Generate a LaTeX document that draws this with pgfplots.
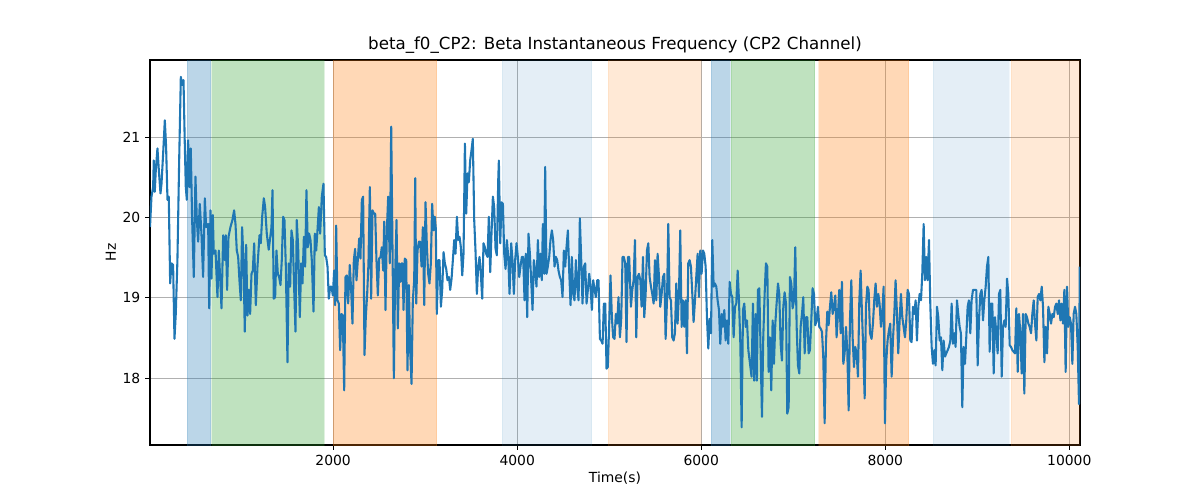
\documentclass[border=0pt]{standalone}
\usepackage{fontspec}
\setmainfont{DejaVu Sans}
\usepackage{pgfplots}
\pgfplotsset{compat=1.18}
\usepackage{pgfplotstable}
\definecolor{tabblue}{RGB}{31,119,180}
\definecolor{taborange}{RGB}{255,127,14}
\definecolor{tabgreen}{RGB}{44,160,44}
\definecolor{gridgray}{RGB}{176,176,176}

\pgfplotstableread{
x y
10 19.88
26 20.26
44 20.38
51 20.71
62 20.32
73 20.59
91 20.86
106 20.59
124 20.30
135 20.42
153 20.80
171 21.21
185 20.88
200 20.22
214 20.26
229 19.18
243 19.43
261 19.41
276 18.49
290 18.80
308 19.47
327 20.71
345 21.75
359 21.65
374 21.71
388 20.92
399 20.38
410 20.22
424 20.96
439 20.38
453 20.86
468 19.97
486 19.26
504 20.51
519 19.97
533 19.70
551 20.17
569 19.80
587 19.26
606 20.24
620 19.88
642 19.92
653 18.87
667 20.09
678 19.24
693 20.03
703 19.55
722 19.59
743 19.01
758 19.59
772 19.26
787 18.87
805 19.78
823 19.47
834 19.78
848 19.10
863 19.76
884 19.88
906 19.97
924 20.09
939 19.92
953 19.59
968 19.51
982 19.22
997 18.97
1011 19.88
1026 19.47
1040 18.58
1055 19.66
1069 18.78
1084 19.10
1098 18.80
1113 19.30
1127 19.34
1142 19.68
1160 18.91
1178 19.39
1200 19.78
1214 19.68
1229 20.01
1247 20.24
1261 20.13
1279 19.80
1300 19.60
1330 19.88
1341 20.34
1355 18.99
1370 19.01
1384 19.59
1399 19.30
1413 19.26
1428 19.16
1442 19.47
1457 20.01
1471 19.97
1486 19.39
1504 18.20
1518 19.43
1533 19.14
1547 19.84
1562 19.72
1576 19.14
1591 18.58
1605 19.97
1620 19.63
1638 18.76
1653 19.43
1667 19.18
1682 19.76
1696 19.39
1710 20.34
1725 19.63
1739 19.80
1754 19.72
1768 19.47
1787 18.83
1801 19.80
1816 19.59
1830 19.84
1845 20.13
1859 19.80
1877 20.26
1895 20.42
1910 19.53
1924 19.51
1939 19.39
1953 18.99
1968 19.14
1982 19.14
1997 19.03
2011 19.34
2022 18.91
2033 19.90
2047 18.97
2062 18.93
2076 18.35
2091 18.80
2105 18.78
2120 17.85
2134 19.26
2149 19.28
2163 18.93
2181 19.41
2196 19.10
2210 18.68
2225 19.47
2239 19.61
2254 19.22
2268 19.47
2283 19.74
2297 19.49
2312 20.22
2326 20.26
2341 18.29
2355 18.76
2370 19.05
2384 19.43
2399 20.38
2413 18.99
2428 20.09
2442 20.05
2457 20.05
2471 19.47
2486 19.03
2500 19.49
2515 19.51
2529 19.63
2544 19.34
2555 19.95
2569 18.85
2584 19.84
2598 20.26
2616 19.43
2631 21.13
2645 19.63
2660 18.00
2674 19.30
2689 19.97
2703 18.62
2718 19.43
2732 19.20
2743 19.43
2754 19.43
2765 18.85
2779 19.49
2794 19.47
2808 18.10
2823 19.16
2837 18.35
2852 17.93
2866 18.97
2881 19.22
2892 20.49
2903 18.93
2917 19.59
2932 19.70
2946 19.70
2961 19.39
2975 19.88
2990 18.91
3004 20.19
3019 19.63
3033 19.30
3047 19.18
3062 19.43
3076 20.17
3091 19.84
3105 20.01
3116 19.86
3127 18.80
3142 19.47
3156 19.47
3171 18.89
3185 19.10
3200 19.57
3214 19.43
3229 19.36
3243 19.22
3258 19.26
3272 19.10
3287 19.24
3301 19.47
3316 19.72
3330 19.55
3345 20.01
3359 19.72
3374 19.76
3388 19.63
3403 19.28
3417 19.55
3432 20.92
3446 20.05
3461 20.55
3475 20.44
3489 20.71
3504 20.84
3518 20.98
3533 19.97
3547 19.59
3562 19.05
3576 19.39
3591 19.51
3605 19.30
3620 18.99
3634 19.68
3649 19.63
3663 19.55
3678 19.51
3692 20.01
3707 19.32
3721 19.80
3736 20.26
3750 20.13
3765 19.61
3779 19.53
3794 20.46
3801 20.71
3816 19.68
3830 20.19
3845 20.17
3859 19.55
3874 19.36
3888 19.72
3903 19.51
3917 19.05
3935 19.68
3949 19.47
3964 19.05
3978 19.47
3993 19.68
4007 19.51
4022 19.26
4036 19.39
4051 19.51
4065 19.51
4080 18.97
4094 19.55
4109 18.76
4123 19.80
4138 19.55
4152 19.22
4167 18.85
4181 19.47
4196 19.34
4210 19.14
4225 19.72
4239 19.26
4254 19.55
4268 19.22
4279 19.92
4293 19.30
4304 20.63
4319 19.30
4333 19.39
4348 19.51
4362 19.72
4377 19.84
4391 19.72
4406 19.39
4420 19.51
4435 19.47
4449 19.34
4464 19.26
4478 19.22
4493 19.01
4507 19.59
4522 19.39
4536 19.63
4551 19.84
4565 19.34
4580 18.91
4594 19.51
4609 19.05
4623 18.97
4638 19.47
4652 19.14
4667 18.97
4681 19.99
4696 19.47
4710 18.93
4725 19.39
4739 19.43
4754 18.93
4768 19.10
4783 19.30
4797 19.14
4812 18.85
4826 19.22
4841 19.10
4855 19.01
4870 19.22
4884 19.22
4899 18.49
4913 18.47
4928 18.43
4942 18.93
4957 18.93
4971 18.12
4985 18.14
5000 18.68
5014 19.28
5029 18.76
5043 18.51
5058 18.49
5072 18.80
5087 18.68
5101 19.01
5116 18.51
5130 18.72
5145 19.51
5159 19.51
5174 19.43
5188 18.45
5203 19.51
5217 19.51
5236 18.89
5251 19.10
5265 19.22
5280 19.72
5294 18.51
5309 19.26
5323 19.30
5338 19.22
5352 18.89
5367 19.51
5381 18.76
5396 19.05
5410 19.59
5425 19.68
5439 19.26
5454 19.14
5468 19.05
5483 18.93
5497 19.47
5512 18.97
5526 19.55
5541 19.26
5555 18.89
5570 19.05
5584 19.26
5599 19.30
5613 18.49
5628 18.97
5642 19.92
5656 19.01
5671 18.97
5685 18.51
5700 18.47
5714 18.56
5729 19.18
5743 18.68
5758 19.05
5772 19.84
5787 18.64
5801 18.97
5816 18.64
5830 18.97
5845 18.31
5859 19.43
5874 19.47
5888 19.39
5903 19.05
5917 18.70
5932 18.97
5946 19.26
5961 19.55
5975 19.01
5990 19.59
6004 19.30
6019 19.59
6033 19.55
6048 19.39
6062 18.76
6077 18.37
6091 18.74
6106 18.56
6120 19.72
6135 19.14
6149 19.18
6164 19.14
6178 18.97
6193 18.85
6207 18.43
6222 18.80
6236 18.64
6251 18.85
6265 18.47
6280 18.72
6294 18.43
6309 19.20
6323 19.05
6338 19.01
6352 18.51
6367 18.89
6381 18.93
6396 19.34
6410 18.97
6425 18.43
6439 17.39
6454 18.85
6468 18.93
6483 18.64
6497 18.72
6512 18.35
6526 18.22
6547 18.02
6562 18.93
6576 17.97
6591 18.80
6605 17.97
6616 19.10
6631 19.12
6645 18.35
6660 17.52
6674 18.51
6689 19.05
6703 19.43
6718 19.39
6732 18.08
6747 18.51
6761 17.85
6776 18.72
6790 18.18
6805 18.68
6819 18.93
6834 19.18
6848 19.05
6863 18.43
6877 18.22
6892 18.89
6906 19.07
6921 18.93
6935 17.56
6950 17.64
6964 19.26
6979 19.18
6993 18.87
7008 18.97
7022 19.63
7037 18.64
7051 18.16
7066 18.06
7080 18.64
7095 18.80
7109 19.01
7124 18.31
7138 18.76
7153 18.76
7167 18.31
7181 18.35
7196 18.72
7210 19.12
7225 19.05
7239 18.66
7254 18.72
7268 18.89
7283 18.64
7297 18.62
7312 18.58
7326 18.27
7341 17.44
7355 18.43
7370 18.83
7384 18.66
7399 18.89
7413 19.07
7428 18.80
7442 18.89
7457 19.03
7471 18.51
7486 18.80
7500 19.10
7515 18.56
7529 19.20
7544 18.18
7558 18.31
7573 18.64
7587 18.35
7602 17.60
7616 18.72
7631 19.22
7645 18.51
7660 18.14
7674 18.39
7689 18.31
7703 18.02
7718 18.97
7732 19.34
7747 18.80
7761 18.35
7776 17.75
7790 18.89
7805 19.14
7819 19.10
7834 18.56
7851 18.49
7866 18.68
7880 18.97
7895 19.18
7909 18.89
7924 19.05
7938 18.93
7953 18.64
7967 18.80
7982 19.14
7996 17.44
8011 18.22
8025 18.47
8040 18.60
8054 18.68
8069 18.02
8083 18.47
8098 18.80
8112 19.22
8127 18.80
8141 18.31
8156 18.72
8170 19.05
8185 18.76
8199 18.64
8214 18.51
8228 18.72
8243 19.10
8257 19.05
8272 18.47
8286 18.45
8301 18.89
8315 18.80
8330 18.97
8344 18.47
8359 18.89
8373 19.05
8388 18.97
8402 19.30
8417 19.92
8431 19.22
8446 19.51
8460 19.22
8475 19.72
8489 18.93
8504 18.39
8518 18.18
8533 18.35
8547 18.16
8562 18.89
8576 18.76
8591 18.47
8605 18.51
8620 18.10
8634 18.47
8649 18.27
8663 18.31
8678 18.35
8692 18.39
8707 18.47
8721 18.93
8735 18.43
8750 18.56
8764 18.39
8779 18.97
8793 18.80
8808 18.64
8822 18.56
8837 17.64
8851 18.39
8866 18.18
8880 18.51
8895 18.89
8909 18.97
8924 18.56
8938 18.97
8953 19.10
8967 19.10
8989 19.10
9004 18.16
9018 18.72
9033 19.05
9047 19.10
9062 18.72
9076 18.97
9091 19.14
9105 19.39
9120 19.51
9134 18.33
9149 18.93
9163 18.93
9178 18.06
9192 18.76
9207 18.56
9221 18.31
9236 19.05
9250 19.10
9265 18.02
9279 18.64
9294 18.72
9308 18.64
9323 19.24
9337 19.05
9352 18.41
9366 18.39
9381 18.35
9395 18.33
9410 18.31
9424 18.87
9439 18.08
9453 18.80
9468 18.56
9482 18.06
9497 18.80
9511 17.81
9526 18.80
9540 18.76
9555 18.68
9569 18.64
9584 18.56
9598 18.80
9613 18.97
9627 18.68
9642 18.47
9656 19.01
9671 19.05
9685 18.97
9700 19.14
9714 18.89
9729 18.20
9743 18.64
9758 18.31
9772 18.89
9787 18.80
9801 18.68
9816 18.80
9830 18.76
9845 18.89
9859 18.93
9874 18.80
9888 18.97
9903 18.72
9917 18.93
9931 18.68
9946 19.10
9960 18.08
9975 19.14
9989 18.64
10004 18.76
10018 18.68
10033 18.18
10047 18.80
10062 18.89
10076 18.80
10091 18.39
10105 17.68
10113 19.39
}\datatable

\begin{document}
\begin{tikzpicture}
\useasboundingbox (-108pt,-39.6pt) rectangle (756pt,320.4pt);
\begin{axis}[
  at={(0pt,0pt)}, anchor=south west,
  scale only axis,
  width=669.6pt, height=277.2pt,
  xmin=10, xmax=10116,
  ymin=17.17, ymax=21.96,
  xtick={2000,4000,6000,8000,10000},
  ytick={18,19,20,21},
  xtick pos=bottom, ytick pos=left,
  scaled x ticks=false,
  xticklabel style={/pgf/number format/1000 sep={}},
  /pgf/number format/assume math mode=true,
  tick label style={font=\fontsize{10}{12}\selectfont},
  tick align=outside,
  major tick length=3.5pt,
  tick style={black, line width=0.8pt},
  axis line style={black, line width=0.8pt},
  grid=major,
  major grid style={gridgray, line width=0.8pt},
  title={beta\_f0\_CP2: Beta Instantaneous Frequency (CP2 Channel)},
  title style={font=\fontsize{12}{14}\selectfont, yshift=-5pt},
  xlabel={Time(s)},
  ylabel={Hz},
  label style={font=\fontsize{10}{12}\selectfont},
  xlabel style={yshift=2pt},
  ylabel style={yshift=-2pt},
]
\addplot[fill=tabblue, fill opacity=0.3, draw=tabblue, draw opacity=0.15] coordinates {(410,17) (668,17) (668,22) (410,22)} -- cycle;
\addplot[fill=tabgreen, fill opacity=0.3, draw=tabgreen, draw opacity=0.15] coordinates {(680,17) (1899,17) (1899,22) (680,22)} -- cycle;
\addplot[fill=taborange, fill opacity=0.3, draw=taborange, draw opacity=0.15] coordinates {(2004,17) (3124,17) (3124,22) (2004,22)} -- cycle;
\addplot[fill=tabblue, fill opacity=0.12, draw=tabblue, draw opacity=0.06] coordinates {(3837,17) (4809,17) (4809,22) (3837,22)} -- cycle;
\addplot[fill=taborange, fill opacity=0.17, draw=taborange, draw opacity=0.08] coordinates {(4986,17) (6000,17) (6000,22) (4986,22)} -- cycle;
\addplot[fill=tabblue, fill opacity=0.3, draw=tabblue, draw opacity=0.15] coordinates {(6105,17) (6312,17) (6312,22) (6105,22)} -- cycle;
\addplot[fill=tabgreen, fill opacity=0.3, draw=tabgreen, draw opacity=0.15] coordinates {(6323,17) (7233,17) (7233,22) (6323,22)} -- cycle;
\addplot[fill=taborange, fill opacity=0.3, draw=taborange, draw opacity=0.15] coordinates {(7276,17) (8254,17) (8254,22) (7276,22)} -- cycle;
\addplot[fill=tabblue, fill opacity=0.12, draw=tabblue, draw opacity=0.06] coordinates {(8518,17) (9348,17) (9348,22) (8518,22)} -- cycle;
\addplot[fill=taborange, fill opacity=0.17, draw=taborange, draw opacity=0.08] coordinates {(9366,17) (10200,17) (10200,22) (9366,22)} -- cycle;
\addplot[tabblue, line width=1.5pt, mark=none, line join=round] table[x=x, y=y] {\datatable};
\end{axis}
\end{tikzpicture}
\end{document}
